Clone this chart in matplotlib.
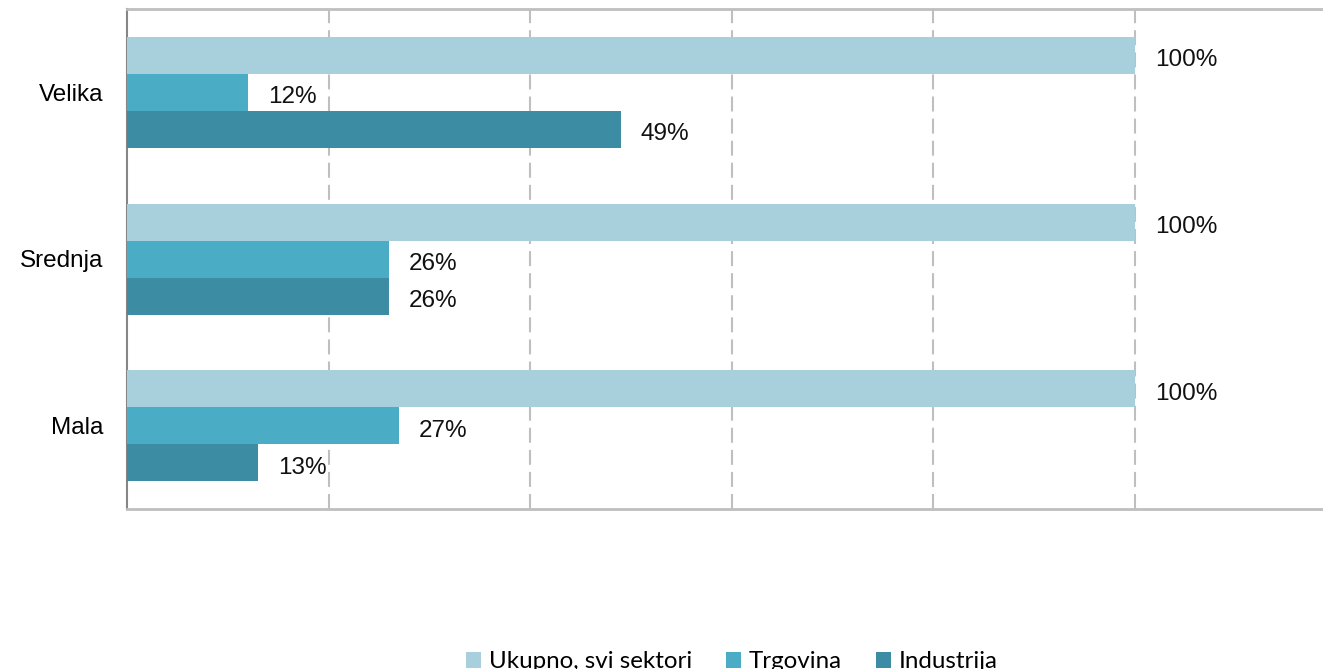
import matplotlib
matplotlib.use('Agg')
import matplotlib.pyplot as plt
import numpy as np

categories = ['Mala', 'Srednja', 'Velika']
series_names = ['Ukupno, svi sektori', 'Trgovina', 'Industrija']
ukupno = [1.00, 1.00, 1.00]
trgovina = [0.27, 0.26, 0.12]
industrija = [0.13, 0.26, 0.49]
colors = ['#A8CFDC', '#4BACC6', '#3C8CA4']

plt.rcParams['font.family'] = ['Liberation Sans', 'DejaVu Sans']

fig = plt.figure(figsize=(13.23, 6.69), dpi=100)
ax = fig.add_axes([127 / 1323, 1 - 509 / 669, 1209 / 1323, 500 / 669])

y = np.arange(len(categories))
h = 0.222
offsets = [h, 0, -h]
for vals, off, col, name in zip([ukupno, trgovina, industrija], offsets, colors, series_names):
    bars = ax.barh(y + off, vals, height=h, color=col, label=name, zorder=3)
    for b, v in zip(bars, vals):
        ax.text(v + 0.02, b.get_y() + b.get_height() / 2 - 0.03, f'{round(v * 100)}%',
                va='center', ha='left', fontsize=17.5, color='#111111', zorder=4)

ax.set_xlim(0, 1.2)
ax.set_ylim(-0.5, 2.5)
ax.set_yticks(y)
ax.set_yticklabels(categories, fontsize=17.5)
ax.set_xticks([0.2, 0.4, 0.6, 0.8, 1.0])
ax.set_xticklabels([])
ax.tick_params(axis='both', length=0)
ax.tick_params(axis='y', pad=17)
ax.grid(axis='x', color='#BFBFBF', linewidth=1.5, linestyle=(0, (7.2, 3.4)), zorder=0)

ax.spines['right'].set_visible(False)
ax.spines['top'].set_color('#BFBFBF')
ax.spines['top'].set_linewidth(2)
ax.spines['bottom'].set_color('#BFBFBF')
ax.spines['bottom'].set_linewidth(2)
ax.spines['left'].set_color('#868686')
ax.spines['left'].set_linewidth(1.5)

handles, labels = ax.get_legend_handles_labels()
fig.legend(handles, labels, loc='center', bbox_to_anchor=(732 / 1323, 1 - 662 / 669),
           ncol=3, frameon=False, prop={'family': 'Lato', 'size': 17.4},
           handlelength=0.6, handleheight=0.6, handletextpad=0.35, columnspacing=1.4,
           borderpad=0)

fig.savefig('out.png', dpi=100)
